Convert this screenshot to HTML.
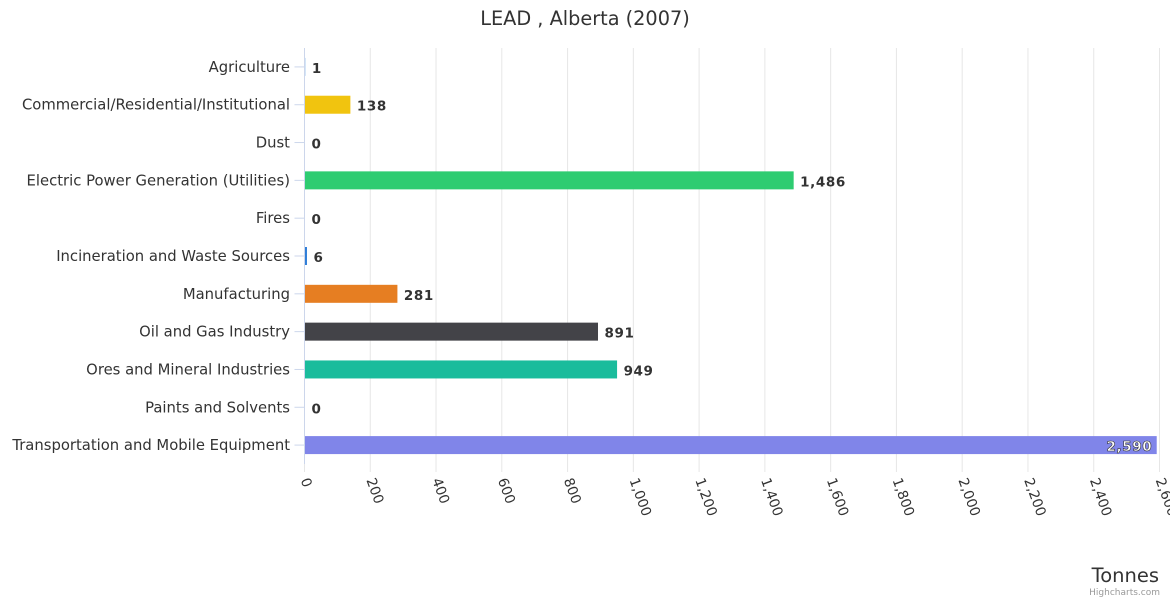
<!DOCTYPE html>
<html><head><meta charset="utf-8"><style>
body{margin:0;background:#fff;font-family:"DejaVu Sans","Liberation Sans",sans-serif}
</style></head><body>
<svg id="c" width="1170" height="600" xmlns="http://www.w3.org/2000/svg" style="display:block;font-family:'DejaVu Sans','Liberation Sans',sans-serif">
<text x="585" y="25" text-anchor="middle" font-size="19.3" fill="#333">LEAD , Alberta (2007)</text>
<g id="grid"></g><g id="bars"></g><g id="labels"></g>
<text x="1159" y="582" text-anchor="end" font-size="19.5" fill="#333">Tonnes</text>
<text x="1160" y="595" text-anchor="end" font-size="9" fill="#999">Highcharts.com</text>
</svg>
<script>
const categories=["Agriculture","Commercial/Residential/Institutional","Dust","Electric Power Generation (Utilities)","Fires","Incineration and Waste Sources","Manufacturing","Oil and Gas Industry","Ores and Mineral Industries","Paints and Solvents","Transportation and Mobile Equipment"];
const values=[1,138,0,1486,0,6,281,891,949,0,2590];
const colors=["#7cb5ec","#f1c40f","#2ecc71","#2ecc71","#e74c3c","#2f7ed8","#e67e22","#434348","#1abc9c","#8e44ad","#8085e9"];
const ticks=[0,200,400,600,800,1000,1200,1400,1600,1800,2000,2200,2400,2600];
const NS="http://www.w3.org/2000/svg";
const x0=304.5,x1=1159.5,yTop=48,yBot=464,max=2600;
const band=(yBot-yTop)/categories.length;
const xs=v=>x0+(x1-x0)*v/max;
const yc=i=>yTop+band*(i+0.5);
function mk(t,a,p){const e=document.createElementNS(NS,t);for(const k in a)e.setAttribute(k,a[k]);document.getElementById(p).appendChild(e);return e;}
ticks.forEach(t=>{
 const g=mk('line',{x1:xs(t),x2:xs(t),y1:yTop,y2:yBot+8,stroke:'#e6e6e6'},'grid');
 
 
 const x=xs(t),y=yBot+16;
 const tx=mk('text',{x:x-4,y:y,'font-size':13.8,fill:'#333',transform:`rotate(70 ${x-4} ${y})`},'grid');
 tx.textContent=t.toLocaleString('en-US');
 
 
});
const ax=mk('line',{x1:x0,x2:x0,y1:yTop,y2:yBot,stroke:'#ccd6eb'},'grid');


categories.forEach((c,i)=>{
 const y=yc(i);
 const tk=mk('line',{x1:x0-10,x2:x0,y1:y,y2:y,stroke:'#ccd6eb'},'labels');
 
 
 const l=mk('text',{x:290,y:y+5,'text-anchor':'end','font-size':14.8,fill:'#333'},'labels');
 l.textContent=c;
 
 
 const w=xs(values[i])-x0;
 const b=mk('rect',{x:x0+0.5,y:y-9,width:Math.max(0,w),height:18,fill:colors[i]},'bars');
 
 
 const inside=w>800;
 const v=mk('text',{x:inside?xs(values[i])-4:xs(values[i])+7,y:y+6,'text-anchor':inside?'end':'start','font-size':13.5,'font-weight':'bold',fill:inside?'#fff':'#333',stroke:inside?'#333':'none','stroke-width':inside?0.6:0,'letter-spacing':'0.6'},'labels');
 v.textContent=values[i].toLocaleString('en-US');
 
 
});
</script>
</body></html>
